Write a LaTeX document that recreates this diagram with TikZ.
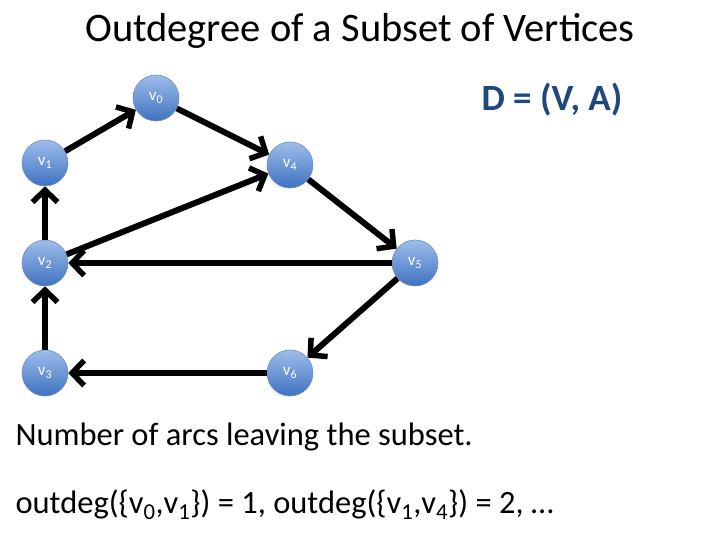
\documentclass[tikz,border=0pt]{standalone}
\usepackage{fontspec}
\setmainfont{Carlito}
\usepackage{tikz}
\usetikzlibrary{arrows.meta}

\definecolor{vtop}{HTML}{9DBDEB}
\definecolor{vbot}{HTML}{3F72C0}
\definecolor{vrim}{HTML}{6A8FC8}
\definecolor{titleblue}{HTML}{1F497D}

\begin{document}
\begin{tikzpicture}[
  x=1pt, y=-1pt,
  vertex/.style = {circle, draw=vrim, line width=0.6pt, top color=vtop, bottom color=vbot,
                   minimum size=46pt, inner sep=0pt, text=white, font=\fontsize{17}{19}\selectfont},
  arc/.style    = {line width=6pt, -{Straight Barb[length=12pt, width=25pt, line width=5.5pt]}},
]
  \useasboundingbox (0,0) rectangle (720,540);

  % Title and graph name
  \node (title) at (360,31) {\fontsize{40.5}{44}\selectfont Outdegree of a Subset of Vertices};
  \node[text=titleblue, font=\fontsize{37}{40}\selectfont\bfseries] (dname) at (552,100) {D = (V, A)};

  % Vertices
  \node[vertex] (v0) at (156,98)  {v\textsubscript{0}};
  \node[vertex] (v1) at (45,163)  {v\textsubscript{1}};
  \node[vertex] (v4) at (290,165) {v\textsubscript{4}};
  \node[vertex] (v2) at (45,263)  {v\textsubscript{2}};
  \node[vertex] (v5) at (415,263) {v\textsubscript{5}};
  \node[vertex] (v3) at (45,373)  {v\textsubscript{3}};
  \node[vertex] (v6) at (290,373) {v\textsubscript{6}};

  % Arcs
  \draw[arc] (v1) -- (v0);
  \draw[arc] (v0) -- (v4);
  \draw[arc] (v2) -- (v4);
  \draw[arc] (v4) -- (v5);
  \draw[arc] (v5) -- (v2);
  \draw[arc] (v5) -- (v6);
  \draw[arc] (v6) -- (v3);
  \draw[arc] (v3) -- (v2);
  \draw[arc] (v2) -- (v1);

  % Text below
  \node[anchor=west, font=\fontsize{32.5}{36}\selectfont] (note) at (12,437) {Number of arcs leaving the subset.};
  \node[anchor=west, font=\fontsize{32.5}{36}\selectfont] (example) at (12,505)
    {outdeg(\{v\textsubscript{0},v\textsubscript{1}\}) = 1, outdeg(\{v\textsubscript{1},v\textsubscript{4}\}) = 2, …};
\end{tikzpicture}
\end{document}
